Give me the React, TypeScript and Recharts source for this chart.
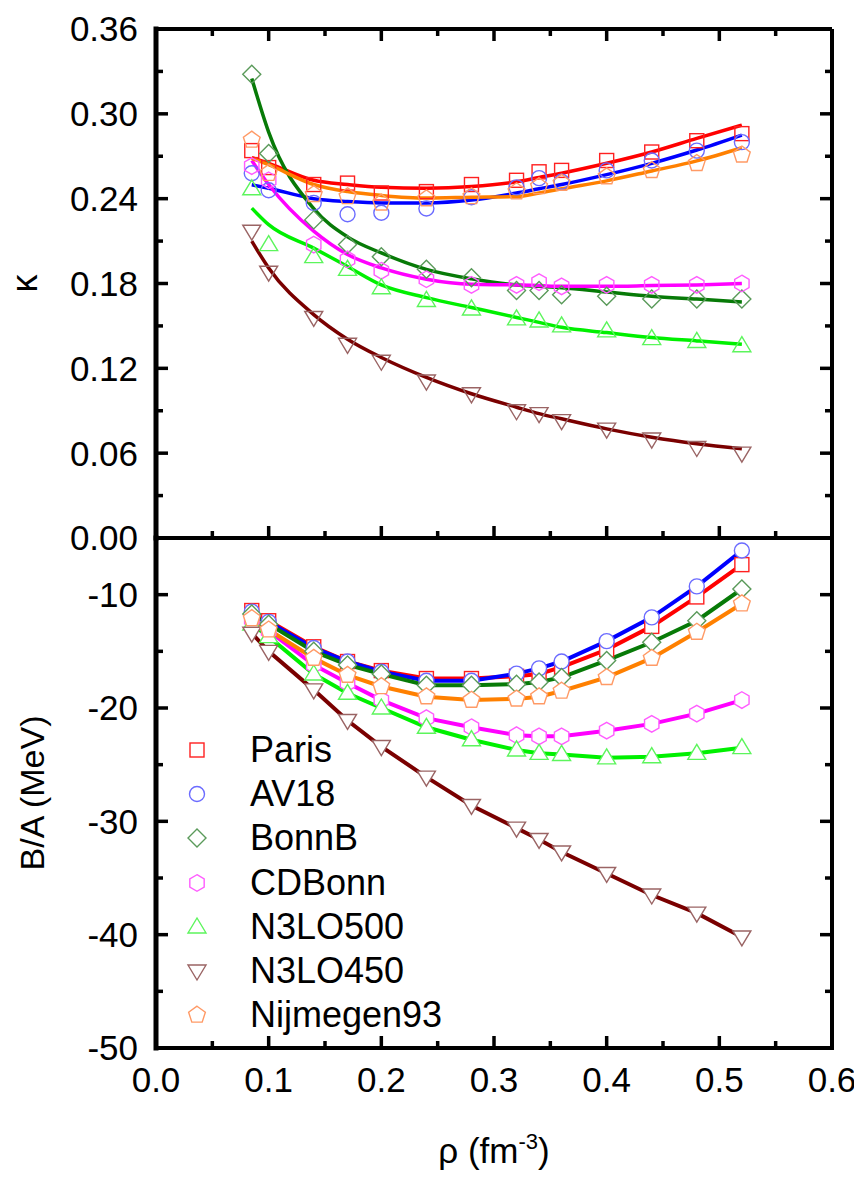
import React from 'react';
import { ComposedChart, Line, XAxis, YAxis, Legend, Label, ReferenceLine } from 'recharts';

// ---------------- data ----------------
const rho = [0.085, 0.1, 0.14, 0.17, 0.2, 0.24, 0.28, 0.32, 0.34, 0.36, 0.4, 0.44, 0.48, 0.52];

// kappa (calculated points)
const kParis = [0.274, 0.262, 0.25, 0.251, 0.244, 0.245, 0.25, 0.253, 0.259, 0.26, 0.267, 0.273, 0.281, 0.286];
const kAV18 = [0.258, 0.246, 0.237, 0.229, 0.23, 0.233, 0.241, 0.248, 0.2545, 0.252, 0.26, 0.267, 0.274, 0.28];
const kBonnB = [0.328, 0.272, 0.225, 0.2075, 0.199, 0.19, 0.184, 0.175, 0.175, 0.172, 0.171, 0.169, 0.169, 0.169];
const kCDBonn = [0.263, 0.253, 0.2075, 0.197, 0.189, 0.183, 0.179, 0.179, 0.181, 0.178, 0.179, 0.179, 0.179, 0.18];
const kN3LO500 = [0.247, 0.2075, 0.199, 0.19, 0.177, 0.168, 0.162, 0.155, 0.1535, 0.15, 0.1465, 0.141, 0.139, 0.136];
const kN3LO450 = [0.217, 0.188, 0.156, 0.137, 0.125, 0.111, 0.102, 0.09, 0.088, 0.083, 0.077, 0.07, 0.064, 0.06];
const kNijmegen93 = [0.2815, 0.258, 0.243, 0.2415, 0.237, 0.24, 0.2415, 0.245, 0.2486, 0.251, 0.2556, 0.26, 0.265, 0.271];

// kappa (fit curves)
const fParis = [0.269, 0.265, 0.253, 0.25, 0.248, 0.2474, 0.2486, 0.252, 0.255, 0.258, 0.265, 0.273, 0.2826, 0.292];
const fAV18 = [0.2498, 0.2474, 0.24, 0.238, 0.237, 0.237, 0.239, 0.244, 0.247, 0.25, 0.257, 0.265, 0.2744, 0.285];
const fBonnB = [0.325, 0.287, 0.233, 0.213, 0.2016, 0.19, 0.1833, 0.179, 0.178, 0.177, 0.174, 0.171, 0.169, 0.167];
const fCDBonn = [0.267, 0.25, 0.217, 0.2005, 0.191, 0.183, 0.1794, 0.179, 0.1785, 0.178, 0.178, 0.1785, 0.179, 0.18];
const fN3LO500 = [0.2333, 0.2216, 0.205, 0.192, 0.179, 0.17, 0.163, 0.156, 0.1525, 0.149, 0.1453, 0.1418, 0.1394, 0.137];
const fN3LO450 = [0.21, 0.191, 0.158, 0.1406, 0.1277, 0.1136, 0.102, 0.0925, 0.088, 0.0843, 0.0772, 0.0713, 0.0667, 0.0632];
const fNijmegen93 = [0.2685, 0.264, 0.25, 0.245, 0.2423, 0.2404, 0.241, 0.2415, 0.244, 0.247, 0.2526, 0.2596, 0.2667, 0.276];

// B/A (MeV)
const bParis = [-11.4, -12.3, -14.6, -15.9, -16.7, -17.4, -17.4, -17.2, -17.0, -16.4, -14.85, -12.8, -10.2, -7.35];
const bAV18 = [-11.5, -12.4, -14.7, -15.9, -16.8, -17.6, -17.6, -16.97, -16.5, -15.9, -14.1, -12.0, -9.27, -6.1];
const bBonnB = [-11.7, -12.6, -15.0, -16.2, -17.0, -18.0, -18.0, -17.9, -17.7, -17.3, -15.8, -14.2, -12.3, -9.5];
const bCDBonn = [-12.2, -13.2, -16.2, -17.8, -19.3, -20.9, -21.7, -22.4, -22.5, -22.5, -22.0, -21.4, -20.5, -19.3];
const bN3LO500 = [-12.6, -13.7, -17.0, -18.7, -20.0, -21.7, -22.8, -23.7, -24.0, -24.1, -24.4, -24.3, -24.0, -23.5];
const bN3LO450 = [-13.4, -15.0, -18.4, -21.1, -23.4, -26.1, -28.6, -30.6, -31.6, -32.7, -34.6, -36.5, -38.1, -40.2];
const bNijmegen93 = [-12.1, -13.1, -15.6, -17.1, -18.1, -19.0, -19.3, -19.2, -19.0, -18.5, -17.3, -15.6, -13.3, -10.8];

// tick values
const xMajor = [0, 0.1, 0.2, 0.3, 0.4, 0.5, 0.6];
const xMinor = [0.05, 0.15, 0.25, 0.35, 0.45, 0.55];
const kMajor = [0, 0.06, 0.12, 0.18, 0.24, 0.3, 0.36];
const kMinor = [0.03, 0.09, 0.15, 0.21, 0.27, 0.33];
const bMajor = [-50, -40, -30, -20, -10];
const bMinor = [-45, -35, -25, -15];

// ---------------- series styles ----------------
type Shape = 'square' | 'circle' | 'diamond' | 'hexagon' | 'up' | 'down' | 'pentagon';
const series: { name: string; shape: Shape; marker: string; line: string; k: number[]; f: number[]; b: number[] }[] = [
  { name: 'Paris', shape: 'square', marker: '#ff2020', line: '#ff0000', k: kParis, f: fParis, b: bParis },
  { name: 'AV18', shape: 'circle', marker: '#6b6bff', line: '#0000ff', k: kAV18, f: fAV18, b: bAV18 },
  { name: 'BonnB', shape: 'diamond', marker: '#5a9a5a', line: '#077a07', k: kBonnB, f: fBonnB, b: bBonnB },
  { name: 'CDBonn', shape: 'hexagon', marker: '#ff5cff', line: '#ff00ff', k: kCDBonn, f: fCDBonn, b: bCDBonn },
  { name: 'N3LO500', shape: 'up', marker: '#5cf55c', line: '#00f000', k: kN3LO500, f: fN3LO500, b: bN3LO500 },
  { name: 'N3LO450', shape: 'down', marker: '#9a6464', line: '#7a0000', k: kN3LO450, f: fN3LO450, b: bN3LO450 },
  { name: 'Nijmegen93', shape: 'pentagon', marker: '#ff9a66', line: '#ff8000', k: kNijmegen93, f: fNijmegen93, b: bNijmegen93 },
];

const rows = rho.map((x, i) => {
  const r: Record<string, number> = { x };
  series.forEach((s) => {
    r['k_' + s.name] = s.k[i];
    r['f_' + s.name] = s.f[i];
    r['b_' + s.name] = s.b[i];
  });
  return r;
});

const FONT = '"Liberation Sans", Arial, Helvetica, sans-serif';

// ---------------- geometry / style constants ----------------
const X_DOM: [number, number] = [0, 0.6];
const K_DOM: [number, number] = [0, 0.36];
const B_DOM: [number, number] = [-50, -5];
const PLOT_W = 676;   // px
const TOP_H = 509;    // px
const BOT_H = 510;    // px
const MAJ = 12;       // tick length px
const MIN = 7;
const xPx = (X_DOM[1] - X_DOM[0]) / PLOT_W;
const kPx = (K_DOM[1] - K_DOM[0]) / TOP_H;
const bPx = (B_DOM[1] - B_DOM[0]) / BOT_H;

// ---------------- marker ----------------
function poly(cx: number, cy: number, r: number, n: number, start: number) {
  const pts: string[] = [];
  for (let i = 0; i < n; i++) {
    const a = ((start + (360 / n) * i) * Math.PI) / 180;
    pts.push(`${cx + r * Math.cos(a)},${cy + r * Math.sin(a)}`);
  }
  return pts.join(' ');
}

function MarkerShape({ cx, cy, shape, color, fill }: { cx?: number; cy?: number; shape: Shape; color: string; fill: string }) {
  if (cx == null || cy == null || isNaN(cx) || isNaN(cy)) return null;
  const common = { fill, stroke: color, strokeWidth: 1.4 };
  switch (shape) {
    case 'square':
      return <rect x={cx - 7} y={cy - 7} width={14} height={14} {...common} />;
    case 'circle':
      return <circle cx={cx} cy={cy} r={7.5} {...common} />;
    case 'diamond':
      return <polygon points={`${cx},${cy - 9} ${cx + 9},${cy} ${cx},${cy + 9} ${cx - 9},${cy}`} {...common} />;
    case 'hexagon':
      return <polygon points={poly(cx, cy, 8.3, 6, -90)} {...common} />;
    case 'up':
      return <polygon points={`${cx},${cy - 9} ${cx + 9},${cy + 6} ${cx - 9},${cy + 6}`} {...common} />;
    case 'down':
      return <polygon points={`${cx},${cy + 9} ${cx + 9},${cy - 6} ${cx - 9},${cy - 6}`} {...common} />;
    case 'pentagon':
      return <polygon points={poly(cx, cy, 8.8, 5, -90)} {...common} />;
  }
  return null;
}

// ---------------- axis styles ----------------
const AX = { stroke: '#000', strokeWidth: 4, strokeLinecap: 'square' as const };
const AXL = { stroke: '#000', strokeWidth: 5, strokeLinecap: 'square' as const };
const TICK = { fill: '#000', fontSize: 35, fontFamily: FONT };

// inward tick marks and frame lines drawn through the chart's scales
function frame(yDom: [number, number], yMajor: number[], yMinor: number[], yPx: number, withTop: boolean, prefix: string) {
  const els: React.ReactElement[] = [];
  const seg = (key: string, a: { x: number; y: number }, b: { x: number; y: number }, w: number) => (
    <ReferenceLine key={prefix + key} xAxisId="b" yAxisId="l" segment={[a, b]} stroke="#000" strokeWidth={w} ifOverflow="visible" />
  );
  const [y0, y1] = yDom;
  // borders
  els.push(seg('rb', { x: X_DOM[1], y: y0 }, { x: X_DOM[1], y: y1 }, 4));
  if (withTop) els.push(seg('tb', { x: X_DOM[0], y: y1 }, { x: X_DOM[1], y: y1 }, 4));
  // x ticks
  xMajor.forEach((v) => {
    els.push(seg('xb' + v, { x: v, y: y0 }, { x: v, y: y0 + MAJ * yPx }, 3.5));
    if (withTop) els.push(seg('xt' + v, { x: v, y: y1 }, { x: v, y: y1 - MAJ * yPx }, 3.5));
  });
  xMinor.forEach((v) => {
    els.push(seg('xbm' + v, { x: v, y: y0 }, { x: v, y: y0 + MIN * yPx }, 3.5));
    if (withTop) els.push(seg('xtm' + v, { x: v, y: y1 }, { x: v, y: y1 - MIN * yPx }, 3.5));
  });
  // y ticks
  yMajor.forEach((v) => {
    els.push(seg('yl' + v, { x: X_DOM[0], y: v }, { x: X_DOM[0] + MAJ * xPx, y: v }, 3.5));
    els.push(seg('yr' + v, { x: X_DOM[1], y: v }, { x: X_DOM[1] - MAJ * xPx, y: v }, 3.5));
  });
  yMinor.forEach((v) => {
    els.push(seg('ylm' + v, { x: X_DOM[0], y: v }, { x: X_DOM[0] + MIN * xPx, y: v }, 3.5));
    els.push(seg('yrm' + v, { x: X_DOM[1], y: v }, { x: X_DOM[1] - MIN * xPx, y: v }, 3.5));
  });
  return els;
}

const renderLegend = () => (
  <div style={{ fontFamily: FONT, fontSize: 36, color: '#000' }}>
    {series.map((s) => (
      <div key={s.name} style={{ display: 'flex', alignItems: 'center', height: 44.2 }}>
        <svg width={40} height={30} style={{ display: 'block' }}>
          <MarkerShape cx={20} cy={15} shape={s.shape} color={s.marker} fill="none" />
        </svg>
        <span style={{ marginLeft: 33, lineHeight: 1 }}>{s.name}</span>
      </div>
    ))}
  </div>
);

export default function App() {
  return (
    <div style={{ position: 'absolute', left: 0, top: 0, width: 854, height: 1177, background: '#fff', fontFamily: FONT, overflow: 'hidden' }}>
      {/* ---------- top panel: kappa ---------- */}
      <div style={{ position: 'absolute', left: 0, top: 0 }}>
        <ComposedChart width={854} height={560} data={rows} margin={{ top: 29, right: 22, bottom: 0, left: 0 }}>
          <XAxis xAxisId="b" dataKey="x" type="number" domain={X_DOM} allowDataOverflow ticks={xMajor} interval={0}
            orientation="bottom" height={22} tickSize={0} tick={false} tickLine={false} axisLine={AX} />
          <YAxis yAxisId="l" type="number" domain={K_DOM} allowDataOverflow ticks={kMajor} interval={0}
            width={156} tickSize={0} tickMargin={18} tickLine={false} tick={TICK}
            tickFormatter={(v: number) => v.toFixed(2)} axisLine={AXL}>
            <Label content={(p: any) => {
              const vb = p.viewBox || { y: 29, height: TOP_H };
              const cy = vb.y + vb.height / 2;
              return (
                <text x={24} y={cy} transform={`rotate(-90, 24, ${cy})`} textAnchor="middle" dominantBaseline="central"
                  fontSize={36} fontFamily={FONT} fill="#000">κ</text>
              );
            }} />
          </YAxis>

          {series.map((s) => (
            <Line key={'km' + s.name} xAxisId="b" yAxisId="l" dataKey={'k_' + s.name} stroke="none" strokeWidth={0}
              isAnimationActive={false} activeDot={false} legendType="none"
              dot={(p: any) => <MarkerShape key={'km' + s.name + p.index} cx={p.cx} cy={p.cy} shape={s.shape} color={s.marker} fill="none" />} />
          ))}
          {series.map((s) => (
            <Line key={'kf' + s.name} xAxisId="b" yAxisId="l" dataKey={'f_' + s.name} type="monotone" stroke={s.line}
              strokeWidth={3.5} dot={false} activeDot={false} isAnimationActive={false} legendType="none" />
          ))}
          {frame(K_DOM, kMajor, kMinor, kPx, true, 'k')}
        </ComposedChart>
      </div>

      {/* ---------- bottom panel: B/A ---------- */}
      <div style={{ position: 'absolute', left: 0, top: 500 }}>
        <ComposedChart width={854} height={677} data={rows} margin={{ top: 38, right: 22, bottom: 0, left: 0 }}>
          <XAxis xAxisId="b" dataKey="x" type="number" domain={X_DOM} allowDataOverflow ticks={xMajor} interval={0}
            orientation="bottom" height={129} tickSize={0} tickMargin={19} tickLine={false} tick={TICK}
            tickFormatter={(v: number) => v.toFixed(1)} axisLine={AX}>
            <Label content={(p: any) => {
              const vb = p.viewBox || { x: 156, y: 548, width: PLOT_W };
              const cx = vb.x + vb.width / 2;
              return (
                <text x={cx} y={vb.y + 115} textAnchor="middle" fontSize={35} fontFamily={FONT} fill="#000">
                  ρ (fm<tspan dy={-14} fontSize={22}>-3</tspan><tspan dy={14} fontSize={35}>)</tspan>
                </text>
              );
            }} />
          </XAxis>
          <YAxis yAxisId="l" type="number" domain={B_DOM} allowDataOverflow ticks={bMajor} interval={0}
            width={156} tickSize={0} tickMargin={18} tickLine={false} tick={TICK} axisLine={AXL}>
            <Label content={(p: any) => {
              const vb = p.viewBox || { y: 38, height: BOT_H };
              const cy = vb.y + vb.height / 2;
              return (
                <text x={32} y={cy} transform={`rotate(-90, 32, ${cy})`} textAnchor="middle" dominantBaseline="central"
                  fontSize={34} fontFamily={FONT} fill="#000">B/A (MeV)</text>
              );
            }} />
          </YAxis>

          {series.map((s) => (
            <Line key={'b' + s.name} xAxisId="b" yAxisId="l" dataKey={'b_' + s.name} type="linear" stroke={s.line}
              strokeWidth={4} isAnimationActive={false} activeDot={false} legendType="none"
              dot={(p: any) => <MarkerShape key={'bm' + s.name + p.index} cx={p.cx} cy={p.cy} shape={s.shape} color={s.marker} fill="#fff" />} />
          ))}
          {frame(B_DOM, bMajor, bMinor, bPx, false, 'b')}

          <Legend layout="vertical" align="center" verticalAlign="middle" content={renderLegend}
            wrapperStyle={{ left: 177, top: 228, width: 320 }} />
        </ComposedChart>
      </div>
    </div>
  );
}
